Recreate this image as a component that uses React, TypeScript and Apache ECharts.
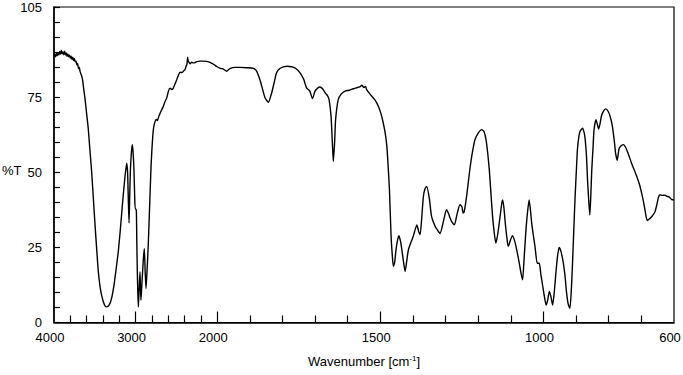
import React, { useEffect, useRef } from "react";
import * as echarts from "echarts";

const WAVENUMBERS = [
  4000, 3990, 3980, 3970, 3960, 3950, 3940, 3930, 3920, 3910, 3900, 3890, 3880, 3870, 3860, 3850, 3840, 3830, 3820, 3810,
  3800, 3790, 3780, 3770, 3760, 3750, 3740, 3730, 3720, 3710, 3700, 3690, 3680, 3660, 3648, 3635, 3620, 3600, 3580, 3560,
  3538, 3517, 3497, 3477, 3457, 3436, 3416, 3390, 3362, 3340, 3313, 3290, 3264, 3240, 3212, 3185, 3158, 3130, 3109, 3098,
  3089, 3080, 3072, 3063, 3050, 3040, 3030, 3020, 3010, 3005, 2998, 2991, 2985, 2979, 2972, 2966, 2958, 2946, 2940, 2934,
  2920, 2905, 2893, 2882, 2872, 2858, 2844, 2828, 2812, 2800, 2782, 2764, 2745, 2733, 2715, 2700, 2680, 2659, 2640, 2619,
  2597, 2578, 2556, 2538, 2515, 2496, 2475, 2455, 2434, 2414, 2393, 2382, 2370, 2362, 2355, 2345, 2333, 2313, 2292, 2270,
  2251, 2210, 2170, 2130, 2088, 2048, 2006, 1990, 1981, 1971, 1961, 1945, 1930, 1910, 1889, 1880, 1874, 1868, 1863, 1853,
  1843, 1833, 1825, 1818, 1808, 1797, 1785, 1772, 1760, 1746, 1735, 1726, 1716, 1708, 1700, 1692, 1685, 1677, 1669, 1662,
  1657, 1651, 1647, 1644, 1640, 1637, 1629, 1620, 1608, 1595, 1583, 1570, 1560, 1557, 1550, 1545, 1542, 1535, 1526, 1516,
  1506, 1498, 1491, 1485, 1480, 1476, 1472, 1467, 1463, 1460, 1456, 1452, 1447, 1443, 1438, 1434, 1428, 1424, 1419, 1414,
  1405, 1399, 1393, 1388, 1383, 1378, 1373, 1368, 1363, 1358, 1350, 1343, 1332, 1325, 1317, 1307, 1297, 1290, 1286, 1280,
  1273, 1265, 1256, 1250, 1246, 1243, 1235, 1225, 1218, 1210, 1200, 1189, 1182, 1176, 1171, 1166, 1161, 1156, 1151, 1146,
  1140, 1133, 1128, 1125, 1121, 1118, 1113, 1108, 1101, 1095, 1088, 1082, 1078, 1074, 1069, 1064, 1060, 1055, 1050, 1044,
  1040, 1036, 1031, 1026, 1019, 1013, 1008, 1002, 997, 992, 987, 982, 977, 972, 967, 962, 957, 952, 946, 939,
  934, 929, 924, 919, 915, 911, 907, 903, 899, 896, 892, 888, 880, 875, 872, 868, 865, 861, 858, 855,
  852, 848, 845, 839, 835, 831, 826, 822, 815, 809, 802, 796, 790, 786, 782, 779, 774, 771, 768, 762,
  755, 750, 745, 738, 730, 722, 714, 706, 699, 694, 689, 685, 682, 675, 668, 663, 658, 652, 648, 643,
  635, 628, 622, 615, 608, 602, 600,
];

const TRANSMITTANCE = [
  88.5, 89.2, 88.4, 89.6, 88.8, 89.8, 89.0, 90.2, 89.3, 90.5, 89.4, 90.0, 89.1, 90.3, 89.0, 89.7, 88.6, 89.4, 88.4, 89.0,
  88.0, 88.6, 87.6, 88.3, 87.2, 87.8, 86.8, 87.0, 85.8, 86.2, 84.5, 85.0, 83.5, 82.0, 80.5, 77.5, 74.5, 69.5, 64.5, 57.5,
  50.0, 41.0, 32.5, 24.5, 17.0, 12.0, 9.0, 6.5, 5.2, 5.3, 6.4, 8.5, 12.5, 17.5, 23.6, 31.5, 40.3, 48.5, 53.0, 50.0,
  41.0, 33.1, 42.0, 51.0, 57.0, 59.2, 56.5, 50.9, 41.0, 38.0, 38.0, 37.4, 27.0, 17.4, 9.5, 5.2, 10.0, 16.9, 11.5, 7.4,
  14.0, 21.0, 24.6, 16.5, 11.3, 18.0, 26.3, 38.5, 50.8, 57.5, 64.2, 66.7, 67.6, 67.2, 68.6, 69.6, 70.8, 72.0, 73.5, 74.6,
  77.0, 78.0, 77.5, 78.0, 79.5, 80.8, 82.3, 83.3, 83.2, 83.6, 84.2, 85.2, 86.0, 88.3, 87.0, 86.6, 86.1, 86.6, 86.4, 86.5,
  86.8, 87.0, 87.0, 86.9, 86.6, 86.0, 85.2, 84.6, 84.3, 83.6, 84.5, 84.9, 84.9, 84.8, 84.6, 83.8, 82.4, 80.5, 78.5, 74.7,
  73.3, 76.4, 80.0, 83.1, 84.5, 85.1, 85.3, 85.1, 84.6, 83.1, 81.0, 78.1, 77.0, 74.5, 77.0, 78.0, 78.4, 77.8, 76.4, 75.5,
  74.2, 68.7, 60.0, 53.6, 60.0, 67.6, 74.2, 76.0, 77.0, 77.3, 77.8, 78.2, 78.6, 79.0, 78.2, 78.6, 77.5, 76.5, 75.3, 74.0,
  72.0, 69.5, 66.4, 63.0, 58.7, 52.0, 44.2, 28.7, 22.0, 18.7, 20.0, 24.2, 27.5, 28.9, 27.0, 24.2, 19.5, 17.0, 20.5, 24.2,
  27.0, 28.7, 31.0, 32.5, 30.5, 29.2, 35.0, 42.0, 44.5, 45.3, 41.5, 35.3, 32.0, 30.8, 29.6, 33.5, 37.5, 36.0, 34.7, 33.3,
  32.5, 36.0, 39.2, 38.5, 36.4, 36.8, 42.5, 51.5, 56.5, 60.8, 63.0, 64.2, 63.5, 60.8, 56.5, 50.8, 43.0, 35.3, 30.0, 26.4,
  29.5, 35.3, 39.5, 40.8, 38.0, 34.2, 29.0, 25.3, 27.5, 28.9, 27.0, 24.2, 22.0, 19.7, 16.5, 14.2, 20.0, 28.7, 35.5, 40.8,
  37.5, 33.0, 29.0, 25.3, 19.7, 19.7, 16.0, 11.9, 8.5, 5.8, 7.5, 10.3, 8.5, 5.8, 10.0, 16.4, 22.0, 25.0, 23.5, 19.7,
  15.5, 9.7, 6.0, 4.7, 10.0, 19.7, 31.0, 42.0, 51.0, 57.5, 61.5, 63.6, 64.7, 63.0, 60.8, 55.0, 47.5, 40.0, 35.8, 42.0,
  50.8, 58.5, 64.2, 67.5, 66.0, 64.4, 66.5, 68.9, 70.5, 71.1, 70.3, 68.7, 66.0, 63.1, 59.5, 56.4, 54.0, 56.0, 58.0, 58.8,
  59.2, 58.6, 57.5, 55.5, 53.0, 50.8, 48.6, 46.0, 43.0, 40.5, 37.5, 35.0, 33.9, 34.5, 35.3, 36.0, 36.9, 39.5, 41.5, 42.5,
  42.3, 42.4, 42.0, 41.8, 41.0, 40.8, 40.7,
];

const X_TICK_LABELS = [4000, 3000, 2000, 1500, 1000, 600];
const X_MAJOR_TICKS = [3000, 2000, 1500, 1000];
const X_MINOR_TICKS = [3800, 3600, 3400, 3200, 2800, 2600, 2400, 2200, 1900, 1800, 1700, 1600, 1400, 1300, 1200, 1100, 900, 800, 700];
const Y_TICK_LABELS = [0, 25, 50, 75, 105];

// Wavenumber axis is compressed 4x above 2000 cm-1
const toU = (w: number) => (w >= 2000 ? (4000 - w) / 4 : 500 + (2000 - w));
const fromU = (u: number) => (u <= 500 ? 4000 - 4 * u : 2000 - (u - 500));

const FONT = "Liberation Sans, Arial, sans-serif";

export default function App() {
  const ref = useRef<HTMLDivElement>(null);
  useEffect(() => {
    if (!ref.current) return;
    const chart = echarts.init(ref.current, null, { renderer: "svg" });
    const data = WAVENUMBERS.map((w, i) => [toU(w), TRANSMITTANCE[i]]);
    chart.setOption({
      animation: false,
      backgroundColor: "#fff",
      grid: {
        left: 54,
        right: 9,
        top: 7,
        bottom: 52.5,
        show: true,
        borderColor: "#000",
        borderWidth: 1.2,
        containLabel: false,
        outerBoundsMode: "none",
      },
      graphic: [
        {
          type: "text",
          left: 2,
          top: 164,
          style: { text: "%T", fill: "#000", font: `13px ${FONT}` },
        },
      ],
      xAxis: [
        {
          type: "value",
          min: 0,
          max: 1900,
          position: "bottom",
          axisLine: { show: true, lineStyle: { color: "#000", width: 1.5 } },
          axisTick: {
            show: true,
            inside: true,
            length: 7,
            lineStyle: { color: "#000", width: 1.2 },
            customValues: X_MINOR_TICKS.map(toU),
          },
          axisLabel: {
            show: true,
            customValues: X_TICK_LABELS.map(toU),
            formatter: (v: number) => String(Math.round(fromU(v))),
            color: "#000",
            fontFamily: FONT,
            fontSize: 13,
            margin: 8,
            padding: [0, 8, 0, 0],
          },
          splitLine: { show: false },
          name: "Wavenumber [cm{sup|-1}]",
          nameLocation: "middle",
          nameGap: 32,
          nameTextStyle: {
            color: "#000",
            fontFamily: FONT,
            fontSize: 13,
            rich: {
              sup: { fontSize: 8, verticalAlign: "top", color: "#000", fontFamily: FONT, padding: [0, 0, 6, 0] },
            },
          },
        },
        {
          type: "value",
          min: 0,
          max: 1900,
          position: "bottom",
          axisLine: { show: false },
          axisTick: {
            show: true,
            inside: true,
            length: 11,
            lineStyle: { color: "#000", width: 1.2 },
            customValues: X_MAJOR_TICKS.map(toU),
          },
          axisLabel: { show: false },
          splitLine: { show: false },
        },
      ],
      yAxis: {
        type: "value",
        min: 0,
        max: 105,
        interval: 5,
        axisLine: { show: true, lineStyle: { color: "#000", width: 1.5 } },
        axisTick: { show: true, inside: true, length: 6, lineStyle: { color: "#000", width: 1.2 } },
        axisLabel: {
          customValues: Y_TICK_LABELS,
          color: "#000",
          fontFamily: FONT,
          fontSize: 13,
          margin: 12,
        },
        splitLine: { show: false },
      },
      series: [
        {
          type: "line",
          xAxisIndex: 0,
          data,
          showSymbol: false,
          smooth: 0.2,
          lineStyle: { color: "#000", width: 1.4 },
          clip: true,
        },
      ],
    });
    return () => chart.dispose();
  }, []);
  return <div ref={ref} style={{ position: "fixed", left: 0, top: 0, width: 683, height: 375 }} />;
}
